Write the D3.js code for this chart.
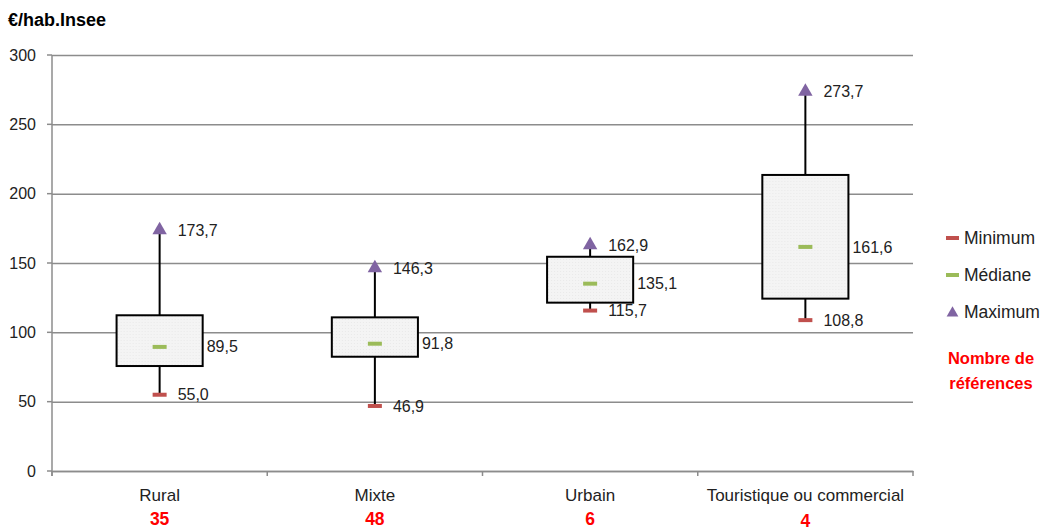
<!DOCTYPE html>
<html>
<head>
<meta charset="utf-8">
<script src="https://cdn.jsdelivr.net/npm/d3@7"></script>
<style>
  body { margin: 0; background: #fff; }
  svg { display: block; font-family: 'Liberation Sans', Arial, sans-serif; }
</style>
</head>
<body>
<svg id="chart" width="1046" height="530"></svg>
<script>
(function(){
'use strict';

// values (€/hab.)
var categories = ['Rural', 'Mixte', 'Urbain', 'Touristique ou commercial'];
var counts     = [35, 48, 6, 4];
var minimum    = [55.0, 46.9, 115.7, 108.8];
var q1         = [75.7, 82.4, 121.4, 124.3];
var median     = [89.5, 91.8, 135.1, 161.6];
var q3         = [112.3, 110.8, 154.5, 213.5];
var maximum    = [173.7, 146.3, 162.9, 273.7];
var yTicks     = [0, 50, 100, 150, 200, 250, 300];

var GRID = '#8c8c8c',
    RED = '#c0504d',
    GREEN = '#9bbb59',
    PURPLE = '#8064a2';

var margin = {left: 52, right: 133, top: 55, bottom: 59};
var svg = d3.select('#chart');
var W = +svg.attr('width') - margin.left - margin.right;
var H = +svg.attr('height') - margin.top - margin.bottom;

var fr = d3.formatLocale({decimal: ',', thousands: ' ', grouping: [3], currency: ['', ' €']});
var fmt = fr.format('.1f');

var rows = categories.map(function(c, i){
    return {cat: c, n: counts[i], min: minimum[i], q1: q1[i], med: median[i], q3: q3[i], max: maximum[i]};
});

var x = d3.scaleBand().domain(categories).range([0, W]);
var y = d3.scaleLinear().domain([0, 300]).range([H, 0]);
var boxW = x.bandwidth() * 0.4;

var g = svg.append('g')
    .attr('transform', 'translate(' + margin.left + ',' + margin.top + ')');

// title
svg.append('text')
    .attr('x', 8).attr('y', 20)
    .attr('dy', '0.35em')
    .attr('font-size', 18).attr('font-weight', 'bold')
    .attr('fill', '#000')
    .text('€/hab.Insee');

// y axis + gridlines
var yAxis = g.append('g')
    .call(d3.axisLeft(y).tickValues(yTicks).tickSize(-W).tickPadding(16).tickFormat(d3.format('d')));
yAxis.select('.domain').remove();
yAxis.selectAll('.tick line').attr('stroke', GRID).attr('stroke-width', 1.5);
yAxis.selectAll('.tick text').attr('font-size', 16).attr('fill', '#222').attr('font-family', null);
// small left ticks
g.append('g').selectAll('line').data(yTicks).join('line')
    .attr('x1', -5).attr('x2', 0)
    .attr('y1', function(d){ return y(d); }).attr('y2', function(d){ return y(d); })
    .attr('stroke', GRID).attr('stroke-width', 1.5);
g.append('line')
    .attr('x1', 0).attr('x2', 0).attr('y1', 0).attr('y2', H + 5)
    .attr('stroke', GRID).attr('stroke-width', 1.5);

// x axis: ticks on band edges
var edges = d3.range(categories.length + 1).map(function(i){ return i * x.step(); });
g.append('g').selectAll('line').data(edges).join('line')
    .attr('x1', function(d){ return d; }).attr('x2', function(d){ return d; })
    .attr('y1', H).attr('y2', H + 5)
    .attr('stroke', GRID).attr('stroke-width', 1.5);

var xAxis = g.append('g')
    .attr('transform', 'translate(0,' + H + ')')
    .call(d3.axisBottom(x).tickSize(0).tickPadding(18));
xAxis.select('.domain').attr('stroke', GRID).attr('stroke-width', 1.5);
xAxis.selectAll('.tick text').attr('font-size', 17).attr('fill', '#222').attr('font-family', null);

// counts under categories
g.append('g').selectAll('text').data(rows).join('text')
    .attr('x', function(d){ return x(d.cat) + x.bandwidth() / 2; })
    .attr('y', function(d, i){ return H + 48 + (i === 3 ? 2 : 0); })
    .attr('dy', '0.35em')
    .attr('text-anchor', 'middle')
    .attr('font-size', 17.5).attr('font-weight', 'bold')
    .attr('fill', '#ff0000')
    .text(function(d){ return d.n; });

// box pattern fill
var defs = svg.append('defs');
var pat = defs.append('pattern')
    .attr('id', 'dots').attr('width', 3).attr('height', 3)
    .attr('patternUnits', 'userSpaceOnUse');
pat.append('rect').attr('width', 3).attr('height', 3).attr('fill', '#f4f4f4');
pat.append('rect').attr('width', 1).attr('height', 1).attr('fill', '#e8e8e8');

var box = g.append('g').selectAll('g').data(rows).join('g')
    .attr('transform', function(d){ return 'translate(' + (x(d.cat) + x.bandwidth() / 2) + ',0)'; });

// whiskers
box.append('line')
    .attr('x1', 0).attr('x2', 0)
    .attr('y1', function(d){ return y(d.max); }).attr('y2', function(d){ return y(d.q3); })
    .attr('stroke', '#000').attr('stroke-width', 2);
box.append('line')
    .attr('x1', 0).attr('x2', 0)
    .attr('y1', function(d){ return y(d.q1); }).attr('y2', function(d){ return y(d.min); })
    .attr('stroke', '#000').attr('stroke-width', 2);

box.append('rect')
    .attr('x', -boxW / 2).attr('width', boxW)
    .attr('y', function(d){ return y(d.q3); })
    .attr('height', function(d){ return y(d.q1) - y(d.q3); })
    .attr('fill', 'url(#dots)')
    .attr('stroke', '#000').attr('stroke-width', 2);

// markers
box.append('rect')
    .attr('x', -7).attr('width', 14).attr('height', 4)
    .attr('y', function(d){ return y(d.min) - 2; })
    .attr('fill', RED);
box.append('rect')
    .attr('x', -7).attr('width', 14).attr('height', 4)
    .attr('y', function(d){ return y(d.med) - 2; })
    .attr('fill', GREEN);
box.append('path')
    .attr('d', d3.symbol(d3.symbolTriangle, 90))
    .attr('transform', function(d){ return 'translate(0,' + y(d.max) + ')'; })
    .attr('fill', PURPLE);

// value labels
function label(sel, key, dx){
    sel.append('text')
        .attr('x', dx)
        .attr('y', function(d){ return y(d[key]); })
        .attr('dy', '0.35em')
        .attr('font-size', 16).attr('fill', '#222')
        .text(function(d){ return fmt(d[key]); });
}
label(box, 'max', 18);
label(box, 'min', 18);
label(box, 'med', boxW / 2 + 4);

// legend
var legend = svg.append('g').attr('transform', 'translate(946,0)');
var items = [
    {name: 'Minimum', color: RED, y: 238, type: 'dash'},
    {name: 'Médiane', color: GREEN, y: 275, type: 'dash'},
    {name: 'Maximum', color: PURPLE, y: 312, type: 'tri'}
];
items.forEach(function(it){
    if (it.type === 'dash'){
        legend.append('rect').attr('x', 0).attr('y', it.y - 2).attr('width', 13).attr('height', 4).attr('fill', it.color);
    } else {
        legend.append('path').attr('d', d3.symbol(d3.symbolTriangle, 60))
            .attr('transform', 'translate(6.5,' + (it.y + 1) + ')').attr('fill', it.color);
    }
    legend.append('text')
        .attr('x', 18).attr('y', it.y).attr('dy', '0.35em')
        .attr('font-size', 17.5).attr('fill', '#222')
        .text(it.name);
});
legend.append('text')
    .attr('x', 45).attr('y', 358).attr('dy', '0.35em')
    .attr('text-anchor', 'middle')
    .attr('font-size', 16.5).attr('font-weight', 'bold').attr('fill', '#ff0000')
    .text('Nombre de');
legend.append('text')
    .attr('x', 45).attr('y', 383).attr('dy', '0.35em')
    .attr('text-anchor', 'middle')
    .attr('font-size', 16.5).attr('font-weight', 'bold').attr('fill', '#ff0000')
    .text('références');

})();
</script>
</body>
</html>
